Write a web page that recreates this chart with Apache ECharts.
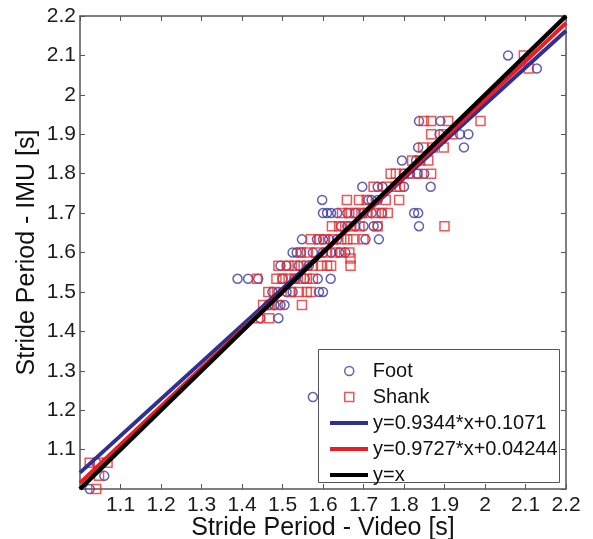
<!DOCTYPE html>
<html>
<head>
<meta charset="utf-8">
<script src="https://cdn.jsdelivr.net/npm/echarts@6/dist/echarts.min.js"></script>
<style>
html,body{margin:0;padding:0;background:#fff;}
#chart{width:593px;height:539px;}
</style>
</head>
<body>
<div id="chart"></div>
<script>
// Foot IMU (circles): video stride period vs IMU stride period
const footX = [2.057, 2.128,
  1.837, 1.890,
  1.888, 1.938, 1.959,
  1.835, 1.948,
  1.795, 1.830,
  1.800, 1.815, 1.833, 1.850,
  1.697, 1.735, 1.747, 1.800, 1.866,
  1.598, 1.712, 1.720, 1.735,
  1.600, 1.610, 1.620, 1.635, 1.660, 1.680, 1.700, 1.720, 1.745, 1.825, 1.835,
  1.645, 1.660, 1.680, 1.700, 1.725, 1.735, 1.837,
  1.548, 1.585, 1.600, 1.615, 1.635, 1.705, 1.738,
  1.525, 1.535, 1.545, 1.575, 1.600, 1.620, 1.640, 1.655,
  1.495, 1.510, 1.540, 1.565,
  1.389, 1.415, 1.440, 1.500, 1.530, 1.555, 1.587, 1.619,
  1.475, 1.490, 1.510, 1.525, 1.590, 1.600,
  1.465, 1.480, 1.495, 1.505,
  1.445, 1.490,
  1.575,
  1.040, 1.060, 1.024];
const footY = [2.1, 2.0667,
  1.9333, 1.9333,
  1.9, 1.9, 1.9,
  1.8667, 1.8667,
  1.8333, 1.8333,
  1.8, 1.8, 1.8, 1.8,
  1.7667, 1.7667, 1.7667, 1.7667, 1.7667,
  1.7333, 1.7333, 1.7333, 1.7333,
  1.7, 1.7, 1.7, 1.7, 1.7, 1.7, 1.7, 1.7, 1.7, 1.7, 1.7,
  1.6667, 1.6667, 1.6667, 1.6667, 1.6667, 1.6667, 1.6667,
  1.6333, 1.6333, 1.6333, 1.6333, 1.6333, 1.6333, 1.6333,
  1.6, 1.6, 1.6, 1.6, 1.6, 1.6, 1.6, 1.6,
  1.5667, 1.5667, 1.5667, 1.5667,
  1.5333, 1.5333, 1.5333, 1.5333, 1.5333, 1.5333, 1.5333, 1.5333,
  1.5, 1.5, 1.5, 1.5, 1.5, 1.5,
  1.4667, 1.4667, 1.4667, 1.4667,
  1.4333, 1.4333,
  1.2333,
  1.0667, 1.0333, 1.0];

// Shank IMU (squares)
const shankX = [2.096, 2.108,
  1.849, 1.867, 1.909, 1.989,
  1.867, 1.898, 1.920,
  1.847, 1.871, 1.898,
  1.820, 1.840, 1.860,
  1.767, 1.780, 1.800, 1.833, 1.867,
  1.725, 1.757, 1.780, 1.790,
  1.659, 1.689, 1.708, 1.755, 1.788,
  1.647, 1.665, 1.680, 1.695, 1.710, 1.730, 1.745, 1.760,
  1.622, 1.640, 1.655, 1.670, 1.690, 1.735, 1.900,
  1.570, 1.590, 1.605, 1.625, 1.645, 1.660, 1.675, 1.700,
  1.545, 1.560, 1.585, 1.610, 1.630, 1.645, 1.665,
  1.668,
  1.490, 1.515, 1.530, 1.545, 1.560, 1.575, 1.595, 1.610, 1.620, 1.668,
  1.437, 1.485, 1.500, 1.515, 1.530, 1.545, 1.560, 1.575,
  1.465, 1.480, 1.520, 1.540, 1.560, 1.570,
  1.452, 1.470, 1.488, 1.548,
  1.440, 1.467,
  1.024, 1.045, 1.068, 1.047, 1.040];
const shankY = [2.1, 2.0667,
  1.9333, 1.9333, 1.9333, 1.9333,
  1.9, 1.9, 1.9,
  1.8667, 1.8667, 1.8667,
  1.8333, 1.8333, 1.8333,
  1.8, 1.8, 1.8, 1.8, 1.8,
  1.7667, 1.7667, 1.7667, 1.7667,
  1.7333, 1.7333, 1.7333, 1.7333, 1.7333,
  1.7, 1.7, 1.7, 1.7, 1.7, 1.7, 1.7, 1.7,
  1.6667, 1.6667, 1.6667, 1.6667, 1.6667, 1.6667, 1.6667,
  1.6333, 1.6333, 1.6333, 1.6333, 1.6333, 1.6333, 1.6333, 1.6333,
  1.6, 1.6, 1.6, 1.6, 1.6, 1.6, 1.6,
  1.585,
  1.5667, 1.5667, 1.5667, 1.5667, 1.5667, 1.5667, 1.5667, 1.5667, 1.5667, 1.5667,
  1.5333, 1.5333, 1.5333, 1.5333, 1.5333, 1.5333, 1.5333, 1.5333,
  1.5, 1.5, 1.5, 1.5, 1.5, 1.5,
  1.4667, 1.4667, 1.4667, 1.4667,
  1.4333, 1.4333,
  1.0667, 1.0667, 1.0667, 1.0333, 1.0];

// Fit lines (end points at x = 1.0 and x = 2.2)
const lineX = [1.0, 2.2];
const footFitY = [1.0415, 2.1628];
const shankFitY = [1.0151, 2.1824];
const identityY = [1.0, 2.2];

const seriesNames = ['Foot', 'Shank', 'y=0.9344*x+0.1071', 'y=0.9727*x+0.04244', 'y=x'];

const FONT = 'Liberation Sans, Arial, Helvetica, sans-serif';
const blueMk = '#3a3aa0';
const redMk = '#ee2b2b';
const blueLn = '#2e3192';
const redLn = '#ec1c24';

function pairs(xs, ys) { return xs.map((x, i) => [x, ys[i]]); }

const axisCommon = {
  type: 'value', min: 1.0, max: 2.2, interval: 0.1,
  axisLine: { show: true, onZero: false, lineStyle: { color: '#555', width: 1.5 } },
  axisTick: { show: true, inside: true, length: 5, lineStyle: { color: '#555', width: 1 } },
  splitLine: { show: false }
};
const fmt = v => String(Math.round(v * 10) / 10);

const chart = echarts.init(document.getElementById('chart'), null, { renderer: 'canvas' });
chart.setOption({
  backgroundColor: '#fff',
  animation: false,
  textStyle: { fontFamily: FONT },
  grid: { left: 80, right: 27, top: 16, bottom: 50, containLabel: false, outerBoundsMode: 'none' },
  xAxis: [
    Object.assign({}, axisCommon, {
      position: 'bottom',
      name: 'Stride Period - Video [s]', nameLocation: 'middle', nameGap: 27, nameMoveOverlap: false,
      nameTextStyle: { fontSize: 25, color: '#111', fontFamily: FONT },
      axisLabel: { show: true, showMinLabel: false, margin: 6, fontSize: 21, color: '#1a1a1a', fontFamily: FONT, formatter: fmt }
    }),
    Object.assign({}, axisCommon, { position: 'top', axisLabel: { show: false } })
  ],
  yAxis: [
    Object.assign({}, axisCommon, {
      position: 'left',
      name: 'Stride Period - IMU [s]', nameLocation: 'middle', nameGap: 40, nameMoveOverlap: false,
      nameTextStyle: { fontSize: 25, color: '#111', fontFamily: FONT },
      axisLabel: { show: true, showMinLabel: false, margin: 4, fontSize: 21, color: '#1a1a1a', fontFamily: FONT, formatter: fmt }
    }),
    Object.assign({}, axisCommon, { position: 'right', axisLabel: { show: false } })
  ],
  graphic: [{
    type: 'rect', z: 100, zlevel: 0,
    shape: { x: 318.5, y: 349.5, width: 241, height: 133 },
    style: { fill: '#fff', stroke: '#555', lineWidth: 1 }
  }],
  legend: [{
    orient: 'vertical', left: 339, top: 353, itemGap: 0,
    itemWidth: 9, itemHeight: 9, z: 200,
    textStyle: { fontSize: 20, color: '#111', fontFamily: FONT, lineHeight: 26, padding: [0, 0, 0, 14] },
    data: [
      { name: seriesNames[0], icon: 'circle', itemStyle: { color: 'rgba(0,0,0,0)', borderColor: blueMk, borderWidth: 1.5 } },
      { name: seriesNames[1], icon: 'rect', itemStyle: { color: 'rgba(0,0,0,0)', borderColor: redMk, borderWidth: 1.5 } }
    ]
  }, {
    orient: 'vertical', left: 325, top: 405, itemGap: 0,
    itemWidth: 38, itemHeight: 4, z: 200,
    textStyle: { fontSize: 20, color: '#111', fontFamily: FONT, lineHeight: 26 },
    data: [
      { name: seriesNames[2], icon: 'rect', itemStyle: { color: blueLn, borderWidth: 0 } },
      { name: seriesNames[3], icon: 'rect', itemStyle: { color: redLn, borderWidth: 0 } },
      { name: seriesNames[4], icon: 'rect', itemStyle: { color: '#000', borderWidth: 0 } }
    ]
  }],
  series: [
    {
      name: seriesNames[0], type: 'scatter', symbol: 'circle', symbolSize: 9, z: 2,
      itemStyle: { color: 'rgba(0,0,0,0)', borderColor: blueMk, borderWidth: 1.5 },
      data: pairs(footX, footY)
    },
    {
      name: seriesNames[1], type: 'scatter', symbol: 'rect', symbolSize: 9, z: 3,
      itemStyle: { color: 'rgba(0,0,0,0)', borderColor: redMk, borderWidth: 1.5 },
      data: pairs(shankX, shankY)
    },
    {
      name: seriesNames[2], type: 'line', symbol: 'none', z: 4,
      itemStyle: { color: blueLn }, lineStyle: { color: blueLn, width: 4 },
      data: pairs(lineX, footFitY)
    },
    {
      name: seriesNames[3], type: 'line', symbol: 'none', z: 5,
      itemStyle: { color: redLn }, lineStyle: { color: redLn, width: 4 },
      data: pairs(lineX, shankFitY)
    },
    {
      name: seriesNames[4], type: 'line', symbol: 'none', z: 6,
      itemStyle: { color: '#000' }, lineStyle: { color: '#000', width: 4.5 },
      data: pairs(lineX, identityY)
    }
  ]
});
</script>
</body>
</html>
